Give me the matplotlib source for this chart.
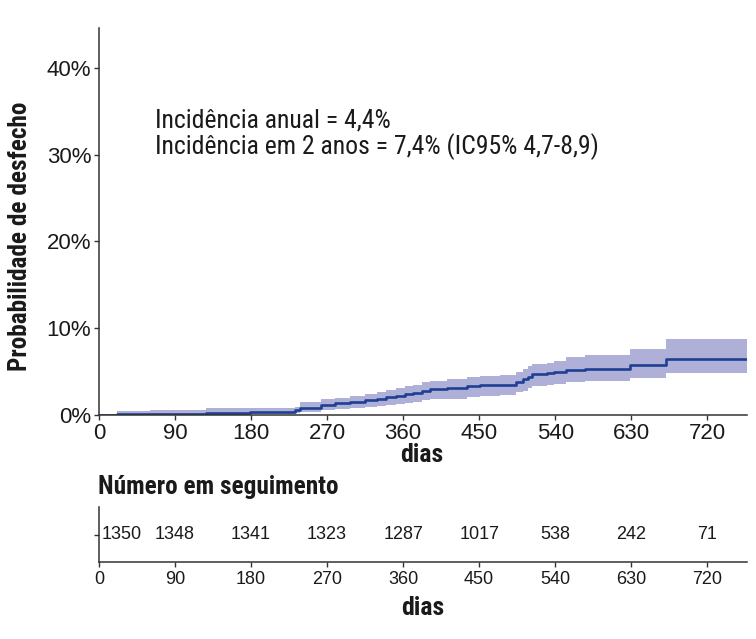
import matplotlib
matplotlib.use("Agg")
import matplotlib.pyplot as plt
import numpy as np

# ---------------- data ----------------
times = [0, 21, 60, 127, 179, 232, 238, 263, 279, 297, 315, 329, 340, 352, 362,
         372, 382, 392, 412, 435, 451, 475, 493, 502, 508, 512, 530, 538, 553,
         575, 629, 671, 767]
estimate = [0, 0.07, 0.15, 0.22, 0.37, 0.55, 0.8, 1.15, 1.35, 1.5, 1.7, 1.87,
            2.1, 2.2, 2.4, 2.57, 2.8, 2.95, 3.06, 3.3, 3.4, 3.5, 3.8, 4.1, 4.4,
            4.68, 4.8, 5.0, 5.2, 5.35, 5.75, 6.45, 6.45]
lower = [0, 0, 0, 0.02, 0.1, 0.25, 0.35, 0.55, 0.7, 0.8, 0.95, 1.05, 1.2, 1.25,
         1.4, 1.5, 1.7, 1.8, 1.9, 2.1, 2.2, 2.3, 2.6, 2.8, 3.1, 3.3, 3.4, 3.55,
         3.75, 3.95, 4.3, 4.85, 4.85]
upper = [0, 0.5, 0.55, 0.8, 0.85, 0.9, 1.5, 1.8, 2.0, 2.2, 2.4, 2.6, 2.9, 3.1,
         3.3, 3.5, 3.8, 3.95, 4.1, 4.4, 4.5, 4.6, 4.95, 5.3, 5.6, 5.9, 6.0, 6.2,
         6.7, 6.95, 7.6, 8.8, 8.8]

tick_days = [0, 90, 180, 270, 360, 450, 540, 630, 720]
y_ticks = [0, 10, 20, 30, 40]
y_tick_labels = ["0%", "10%", "20%", "30%", "40%"]
risk_days = [0, 90, 180, 270, 360, 450, 540, 630, 720]
risk_numbers = [1350, 1348, 1341, 1323, 1287, 1017, 538, 242, 71]

annot_lines = ["Incidência anual = 4,4%",
               "Incidência em 2 anos = 7,4% (IC95% 4,7-8,9)"]

# ---------------- fonts ----------------
narrow = ["Roboto Condensed", "DejaVu Sans"]
regular = ["Liberation Sans", "DejaVu Sans"]

line_color = "#1f3f94"
band_color = "#aeb0d8"
spine_color = "#333333"
text_color = "#1a1a1a"

W, H = 756, 639
fig = plt.figure(figsize=(W / 100, H / 100), dpi=100)

def fx(px):
    return px / W

def fy(py):
    return 1 - py / H

# main axes: x 99..747, y 28..415
ax = fig.add_axes([fx(99), fy(415), fx(747) - fx(99), fy(28) - fy(415)])
ax.fill_between(times, lower, upper, step="post", color=band_color, linewidth=0)
ax.step(times, estimate, where="post", color=line_color, linewidth=1.9)
ax.set_xlim(0, 767)
ax.set_ylim(0, 44.6)
ax.set_xticks(tick_days)
ax.set_xticklabels([str(d) for d in tick_days], family=regular, fontsize=16)
ax.set_yticks(y_ticks)
ax.set_yticklabels(y_tick_labels, family=regular, fontsize=16)
for s in ["top", "right"]:
    ax.spines[s].set_visible(False)
for s in ["left", "bottom"]:
    ax.spines[s].set_color(spine_color)
    ax.spines[s].set_linewidth(1.1)
ax.tick_params(axis="both", direction="out", length=3.6, width=1.0,
               color=spine_color, labelcolor=text_color)
ax.tick_params(axis="x", pad=2)
ax.tick_params(axis="y", pad=2)

ax.text(0.0864, 0.744, annot_lines[0], transform=ax.transAxes,
        family=narrow, fontsize=18.5, color=text_color, va="baseline", ha="left")
ax.text(0.0864, 0.674, annot_lines[1], transform=ax.transAxes,
        family=narrow, fontsize=18.5, color=text_color, va="baseline", ha="left")

# risk table axes: x 99..747, y 507..562
rax = fig.add_axes([fx(99), fy(562), fx(747) - fx(99), fy(507) - fy(562)])
rax.set_xlim(0, 767)
rax.set_ylim(0, 1)
for d, n in zip(risk_days, risk_numbers):
    if d == 0:
        rax.text(d + 3, 0.5, str(n), ha="left", va="center",
                 family=regular, fontsize=13, color=text_color)
    else:
        rax.text(d, 0.5, str(n), ha="center", va="center",
                 family=regular, fontsize=13, color=text_color)
rax.set_xticks(tick_days)
rax.set_xticklabels([str(d) for d in tick_days], family=regular, fontsize=13)
rax.set_yticks([0.5])
rax.set_yticklabels([""])
for s in ["top", "right"]:
    rax.spines[s].set_visible(False)
for s in ["left", "bottom"]:
    rax.spines[s].set_color(spine_color)
    rax.spines[s].set_linewidth(1.1)
rax.tick_params(axis="both", direction="out", length=3.6, width=1.0,
                color=spine_color, labelcolor=text_color, pad=3)

# titles / axis labels
fig.text(fx(20), fy(236), "Probabilidade de desfecho", rotation=90,
         ha="center", va="center", family=narrow, fontweight="bold",
         fontsize=18.2, color=text_color)
fig.text(fx(422), fy(455), "dias", ha="center", va="center",
         family=narrow, fontweight="bold", fontsize=18.5, color=text_color)
fig.text(fx(98), fy(487), "Número em seguimento", ha="left", va="center",
         family=narrow, fontweight="bold", fontsize=18.2, color=text_color)
fig.text(fx(423), fy(608), "dias", ha="center", va="center",
         family=narrow, fontweight="bold", fontsize=18.5, color=text_color)

fig.savefig("out.png", dpi=100)
